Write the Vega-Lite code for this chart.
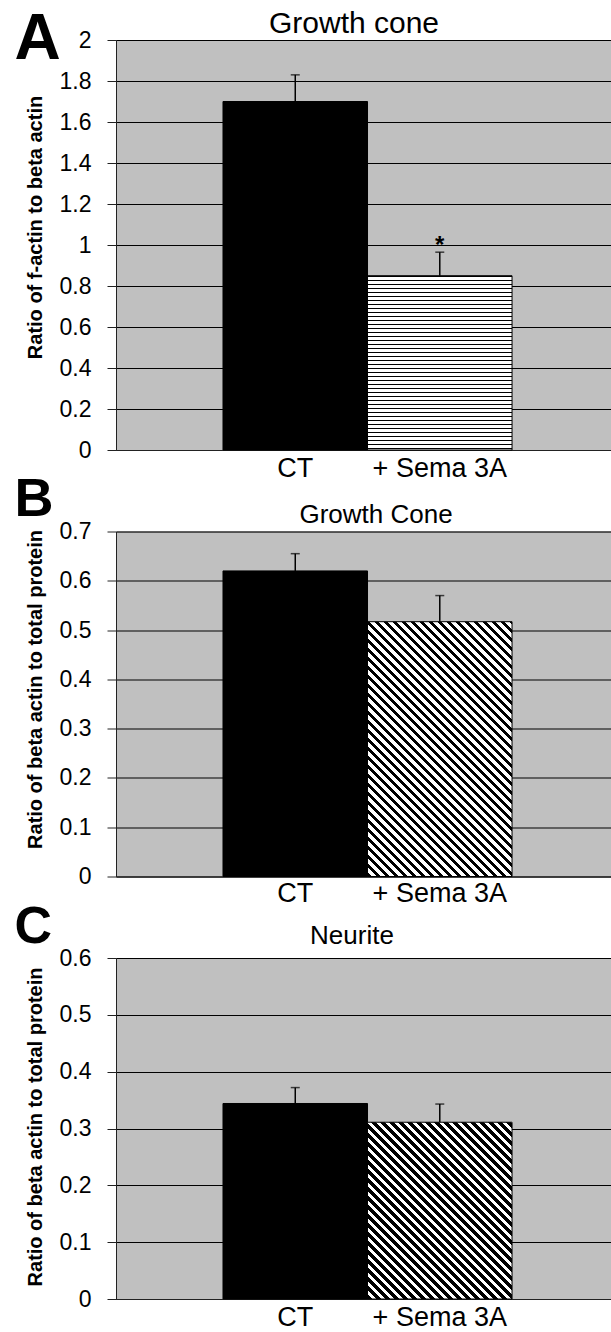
{
"$schema": "https://vega.github.io/schema/vega-lite/v6.json",
"padding": {"left": 13, "top": 6, "right": 0, "bottom": 0},
"autosize": {"type": "pad"},
"config": {
  "font": "Liberation Sans",
  "view": {"fill": "#c0c0c0", "stroke": "#808080", "strokeWidth": 1},
  "axis": {"labelColor": "#000", "titleColor": "#000", "domainColor": "#222", "tickColor": "#222", "gridColor": "#000", "gridOpacity": 1},
  "title": {"color": "#000", "fontWeight": "normal"}
},
"datasets": {
  "A": [{"group": "CT", "mean": 1.7, "err": 1.83}, {"group": "+ Sema 3A", "mean": 0.85, "err": 0.965, "sig": "*"}],
  "B": [{"group": "CT", "mean": 0.62, "err": 0.655}, {"group": "+ Sema 3A", "mean": 0.517, "err": 0.57}],
  "C": [{"group": "CT", "mean": 0.344, "err": 0.372}, {"group": "+ Sema 3A", "mean": 0.311, "err": 0.343}]
},
"bounds": "flush",
"spacing": 81.5,
"vconcat": [
{
  "width": 496, "height": 410,
  "data": {"name": "A"},
  "title": {"text": "Growth cone", "fontSize": 30, "anchor": "middle", "frame": "group", "baseline": "alphabetic", "offset": -56, "dx": -10},
  "resolve": {"axis": {"x": "independent"}},
  "layer": [
    {"transform": [{"filter": "datum.group === 'CT'"}],
     "mark": {"type": "bar", "fill": "#000", "stroke": "#000", "strokeWidth": 1},
     "encoding": {
       "x": {"field": "group", "type": "nominal", "scale": {"domain": ["CT", "+ Sema 3A"], "paddingInner": 0, "paddingOuter": 0.716, "align": 0.517},
             "axis": {"orient": "bottom", "title": null, "ticks": false, "labelFontSize": 27, "labelPadding": 5, "labelAngle": 0, "grid": false}},
       "y": {"field": "mean", "type": "quantitative", "title": "Ratio of f-actin to beta actin", "scale": {"domain": [0, 2], "nice": false},
             "axis": {"values": [0, 0.2, 0.4, 0.6, 0.8, 1, 1.2, 1.4, 1.6, 1.8, 2], "format": "~g", "labelFontSize": 23, "labelPadding": 16, "tickSize": 9, "titleFontSize": 20, "titleFontWeight": "bold", "titleX": -75, "titleY": 187, "titleBaseline": "alphabetic", "titleAngle": 270, "titleAlign": "center", "grid": true, "gridWidth": 1}}
     }},
    {"transform": [{"filter": "datum.group !== 'CT'"}],
     "mark": {"type": "bar", "stroke": "#000", "strokeWidth": 1, "fill": {"gradient": "linear", "x1": 0, "y1": 0, "x2": 0, "y2": 1.1478, "stops": [
{"offset":0.00,"color":"#000"},{"offset":0.007,"color":"#000"},{"offset":0.007,"color":"#fff"},{"offset":0.02,"color":"#fff"},
{"offset":0.02,"color":"#000"},{"offset":0.027,"color":"#000"},{"offset":0.027,"color":"#fff"},{"offset":0.04,"color":"#fff"},
{"offset":0.04,"color":"#000"},{"offset":0.047,"color":"#000"},{"offset":0.047,"color":"#fff"},{"offset":0.06,"color":"#fff"},
{"offset":0.06,"color":"#000"},{"offset":0.067,"color":"#000"},{"offset":0.067,"color":"#fff"},{"offset":0.08,"color":"#fff"},
{"offset":0.08,"color":"#000"},{"offset":0.087,"color":"#000"},{"offset":0.087,"color":"#fff"},{"offset":0.10,"color":"#fff"},
{"offset":0.10,"color":"#000"},{"offset":0.107,"color":"#000"},{"offset":0.107,"color":"#fff"},{"offset":0.12,"color":"#fff"},
{"offset":0.12,"color":"#000"},{"offset":0.127,"color":"#000"},{"offset":0.127,"color":"#fff"},{"offset":0.14,"color":"#fff"},
{"offset":0.14,"color":"#000"},{"offset":0.147,"color":"#000"},{"offset":0.147,"color":"#fff"},{"offset":0.16,"color":"#fff"},
{"offset":0.16,"color":"#000"},{"offset":0.167,"color":"#000"},{"offset":0.167,"color":"#fff"},{"offset":0.18,"color":"#fff"},
{"offset":0.18,"color":"#000"},{"offset":0.187,"color":"#000"},{"offset":0.187,"color":"#fff"},{"offset":0.20,"color":"#fff"},
{"offset":0.20,"color":"#000"},{"offset":0.207,"color":"#000"},{"offset":0.207,"color":"#fff"},{"offset":0.22,"color":"#fff"},
{"offset":0.22,"color":"#000"},{"offset":0.227,"color":"#000"},{"offset":0.227,"color":"#fff"},{"offset":0.24,"color":"#fff"},
{"offset":0.24,"color":"#000"},{"offset":0.247,"color":"#000"},{"offset":0.247,"color":"#fff"},{"offset":0.26,"color":"#fff"},
{"offset":0.26,"color":"#000"},{"offset":0.267,"color":"#000"},{"offset":0.267,"color":"#fff"},{"offset":0.28,"color":"#fff"},
{"offset":0.28,"color":"#000"},{"offset":0.287,"color":"#000"},{"offset":0.287,"color":"#fff"},{"offset":0.30,"color":"#fff"},
{"offset":0.30,"color":"#000"},{"offset":0.307,"color":"#000"},{"offset":0.307,"color":"#fff"},{"offset":0.32,"color":"#fff"},
{"offset":0.32,"color":"#000"},{"offset":0.327,"color":"#000"},{"offset":0.327,"color":"#fff"},{"offset":0.34,"color":"#fff"},
{"offset":0.34,"color":"#000"},{"offset":0.347,"color":"#000"},{"offset":0.347,"color":"#fff"},{"offset":0.36,"color":"#fff"},
{"offset":0.36,"color":"#000"},{"offset":0.367,"color":"#000"},{"offset":0.367,"color":"#fff"},{"offset":0.38,"color":"#fff"},
{"offset":0.38,"color":"#000"},{"offset":0.387,"color":"#000"},{"offset":0.387,"color":"#fff"},{"offset":0.40,"color":"#fff"},
{"offset":0.40,"color":"#000"},{"offset":0.407,"color":"#000"},{"offset":0.407,"color":"#fff"},{"offset":0.42,"color":"#fff"},
{"offset":0.42,"color":"#000"},{"offset":0.427,"color":"#000"},{"offset":0.427,"color":"#fff"},{"offset":0.44,"color":"#fff"},
{"offset":0.44,"color":"#000"},{"offset":0.447,"color":"#000"},{"offset":0.447,"color":"#fff"},{"offset":0.46,"color":"#fff"},
{"offset":0.46,"color":"#000"},{"offset":0.467,"color":"#000"},{"offset":0.467,"color":"#fff"},{"offset":0.48,"color":"#fff"},
{"offset":0.48,"color":"#000"},{"offset":0.487,"color":"#000"},{"offset":0.487,"color":"#fff"},{"offset":0.50,"color":"#fff"},
{"offset":0.50,"color":"#000"},{"offset":0.507,"color":"#000"},{"offset":0.507,"color":"#fff"},{"offset":0.52,"color":"#fff"},
{"offset":0.52,"color":"#000"},{"offset":0.527,"color":"#000"},{"offset":0.527,"color":"#fff"},{"offset":0.54,"color":"#fff"},
{"offset":0.54,"color":"#000"},{"offset":0.547,"color":"#000"},{"offset":0.547,"color":"#fff"},{"offset":0.56,"color":"#fff"},
{"offset":0.56,"color":"#000"},{"offset":0.567,"color":"#000"},{"offset":0.567,"color":"#fff"},{"offset":0.58,"color":"#fff"},
{"offset":0.58,"color":"#000"},{"offset":0.587,"color":"#000"},{"offset":0.587,"color":"#fff"},{"offset":0.60,"color":"#fff"},
{"offset":0.60,"color":"#000"},{"offset":0.607,"color":"#000"},{"offset":0.607,"color":"#fff"},{"offset":0.62,"color":"#fff"},
{"offset":0.62,"color":"#000"},{"offset":0.627,"color":"#000"},{"offset":0.627,"color":"#fff"},{"offset":0.64,"color":"#fff"},
{"offset":0.64,"color":"#000"},{"offset":0.647,"color":"#000"},{"offset":0.647,"color":"#fff"},{"offset":0.66,"color":"#fff"},
{"offset":0.66,"color":"#000"},{"offset":0.667,"color":"#000"},{"offset":0.667,"color":"#fff"},{"offset":0.68,"color":"#fff"},
{"offset":0.68,"color":"#000"},{"offset":0.687,"color":"#000"},{"offset":0.687,"color":"#fff"},{"offset":0.70,"color":"#fff"},
{"offset":0.70,"color":"#000"},{"offset":0.707,"color":"#000"},{"offset":0.707,"color":"#fff"},{"offset":0.72,"color":"#fff"},
{"offset":0.72,"color":"#000"},{"offset":0.727,"color":"#000"},{"offset":0.727,"color":"#fff"},{"offset":0.74,"color":"#fff"},
{"offset":0.74,"color":"#000"},{"offset":0.747,"color":"#000"},{"offset":0.747,"color":"#fff"},{"offset":0.76,"color":"#fff"},
{"offset":0.76,"color":"#000"},{"offset":0.767,"color":"#000"},{"offset":0.767,"color":"#fff"},{"offset":0.78,"color":"#fff"},
{"offset":0.78,"color":"#000"},{"offset":0.787,"color":"#000"},{"offset":0.787,"color":"#fff"},{"offset":0.80,"color":"#fff"},
{"offset":0.80,"color":"#000"},{"offset":0.807,"color":"#000"},{"offset":0.807,"color":"#fff"},{"offset":0.82,"color":"#fff"},
{"offset":0.82,"color":"#000"},{"offset":0.827,"color":"#000"},{"offset":0.827,"color":"#fff"},{"offset":0.84,"color":"#fff"},
{"offset":0.84,"color":"#000"},{"offset":0.847,"color":"#000"},{"offset":0.847,"color":"#fff"},{"offset":0.86,"color":"#fff"},
{"offset":0.86,"color":"#000"},{"offset":0.867,"color":"#000"},{"offset":0.867,"color":"#fff"},{"offset":0.88,"color":"#fff"},
{"offset":0.88,"color":"#000"},{"offset":0.887,"color":"#000"},{"offset":0.887,"color":"#fff"},{"offset":0.90,"color":"#fff"}
     ]}},
     "encoding": {
       "x": {"field": "group", "type": "nominal", "axis": null},
       "y": {"field": "mean", "type": "quantitative", "title": "Ratio of f-actin to beta actin"}
     }},
    {"mark": {"type": "rule", "color": "#000", "strokeWidth": 1.5},
     "encoding": {
       "x": {"field": "group", "type": "nominal", "axis": {"orient": "top", "title": "A", "titleFontSize": 64, "titleFontWeight": "bold", "titleX": -102, "titleY": 18, "titleAlign": "left", "titleBaseline": "alphabetic", "titleAngle": 0, "labels": false, "ticks": false, "domain": false, "grid": false}},
       "y": {"field": "mean", "type": "quantitative", "title": "Ratio of f-actin to beta actin"},
       "y2": {"field": "err"}
     }},
    {"mark": {"type": "tick", "color": "#000", "thickness": 1.5, "size": 9},
     "encoding": {
       "x": {"field": "group", "type": "nominal", "axis": null},
       "y": {"field": "err", "type": "quantitative", "title": "Ratio of f-actin to beta actin"}
     }},
    {"transform": [{"filter": "datum.sig"}],
     "mark": {"type": "text", "fontSize": 24, "fontWeight": "bold", "baseline": "alphabetic", "dy": 1, "color": "#000"},
     "encoding": {
       "x": {"field": "group", "type": "nominal", "axis": null},
       "y": {"field": "err", "type": "quantitative", "title": "Ratio of f-actin to beta actin"},
       "text": {"field": "sig"}
     }}
  ]
},
{
  "width": 496, "height": 345,
  "data": {"name": "B"},
  "title": {"text": "Growth Cone", "fontSize": 26, "anchor": "middle", "frame": "group", "baseline": "alphabetic", "offset": -76, "dx": 12},
  "resolve": {"axis": {"x": "independent"}},
  "layer": [
    {"transform": [{"filter": "datum.group === 'CT'"}],
     "mark": {"type": "bar", "fill": "#000", "stroke": "#000", "strokeWidth": 1},
     "encoding": {
       "x": {"field": "group", "type": "nominal", "scale": {"domain": ["CT", "+ Sema 3A"], "paddingInner": 0, "paddingOuter": 0.716, "align": 0.517},
             "axis": {"orient": "bottom", "title": null, "ticks": false, "labelFontSize": 27, "labelPadding": 4, "labelAngle": 0, "grid": false}},
       "y": {"field": "mean", "type": "quantitative", "title": "Ratio of beta actin to total protein", "scale": {"domain": [0, 0.7], "nice": false},
             "axis": {"values": [0, 0.1, 0.2, 0.3, 0.4, 0.5, 0.6, 0.7], "format": "~g", "labelFontSize": 23, "labelPadding": 16, "tickSize": 9, "titleFontSize": 20, "titleFontWeight": "bold", "titleX": -75, "titleY": 157.5, "titleBaseline": "alphabetic", "titleAngle": 270, "titleAlign": "center", "grid": true, "gridWidth": 1}}
     }},
    {"transform": [{"filter": "datum.group !== 'CT'"}],
     "mark": {"type": "bar", "stroke": "#000", "strokeWidth": 1, "fill": {"gradient": "linear", "x1": 0, "y1": 1, "x2": 0.7579, "y2": -0.3362, "stops": [
{"offset":0.00,"color":"#000"},{"offset":0.01,"color":"#000"},{"offset":0.01,"color":"#fff"},{"offset":0.02,"color":"#fff"},
{"offset":0.02,"color":"#000"},{"offset":0.03,"color":"#000"},{"offset":0.03,"color":"#fff"},{"offset":0.04,"color":"#fff"},
{"offset":0.04,"color":"#000"},{"offset":0.05,"color":"#000"},{"offset":0.05,"color":"#fff"},{"offset":0.06,"color":"#fff"},
{"offset":0.06,"color":"#000"},{"offset":0.07,"color":"#000"},{"offset":0.07,"color":"#fff"},{"offset":0.08,"color":"#fff"},
{"offset":0.08,"color":"#000"},{"offset":0.09,"color":"#000"},{"offset":0.09,"color":"#fff"},{"offset":0.10,"color":"#fff"},
{"offset":0.10,"color":"#000"},{"offset":0.11,"color":"#000"},{"offset":0.11,"color":"#fff"},{"offset":0.12,"color":"#fff"},
{"offset":0.12,"color":"#000"},{"offset":0.13,"color":"#000"},{"offset":0.13,"color":"#fff"},{"offset":0.14,"color":"#fff"},
{"offset":0.14,"color":"#000"},{"offset":0.15,"color":"#000"},{"offset":0.15,"color":"#fff"},{"offset":0.16,"color":"#fff"},
{"offset":0.16,"color":"#000"},{"offset":0.17,"color":"#000"},{"offset":0.17,"color":"#fff"},{"offset":0.18,"color":"#fff"},
{"offset":0.18,"color":"#000"},{"offset":0.19,"color":"#000"},{"offset":0.19,"color":"#fff"},{"offset":0.20,"color":"#fff"},
{"offset":0.20,"color":"#000"},{"offset":0.21,"color":"#000"},{"offset":0.21,"color":"#fff"},{"offset":0.22,"color":"#fff"},
{"offset":0.22,"color":"#000"},{"offset":0.23,"color":"#000"},{"offset":0.23,"color":"#fff"},{"offset":0.24,"color":"#fff"},
{"offset":0.24,"color":"#000"},{"offset":0.25,"color":"#000"},{"offset":0.25,"color":"#fff"},{"offset":0.26,"color":"#fff"},
{"offset":0.26,"color":"#000"},{"offset":0.27,"color":"#000"},{"offset":0.27,"color":"#fff"},{"offset":0.28,"color":"#fff"},
{"offset":0.28,"color":"#000"},{"offset":0.29,"color":"#000"},{"offset":0.29,"color":"#fff"},{"offset":0.30,"color":"#fff"},
{"offset":0.30,"color":"#000"},{"offset":0.31,"color":"#000"},{"offset":0.31,"color":"#fff"},{"offset":0.32,"color":"#fff"},
{"offset":0.32,"color":"#000"},{"offset":0.33,"color":"#000"},{"offset":0.33,"color":"#fff"},{"offset":0.34,"color":"#fff"},
{"offset":0.34,"color":"#000"},{"offset":0.35,"color":"#000"},{"offset":0.35,"color":"#fff"},{"offset":0.36,"color":"#fff"},
{"offset":0.36,"color":"#000"},{"offset":0.37,"color":"#000"},{"offset":0.37,"color":"#fff"},{"offset":0.38,"color":"#fff"},
{"offset":0.38,"color":"#000"},{"offset":0.39,"color":"#000"},{"offset":0.39,"color":"#fff"},{"offset":0.40,"color":"#fff"},
{"offset":0.40,"color":"#000"},{"offset":0.41,"color":"#000"},{"offset":0.41,"color":"#fff"},{"offset":0.42,"color":"#fff"},
{"offset":0.42,"color":"#000"},{"offset":0.43,"color":"#000"},{"offset":0.43,"color":"#fff"},{"offset":0.44,"color":"#fff"},
{"offset":0.44,"color":"#000"},{"offset":0.45,"color":"#000"},{"offset":0.45,"color":"#fff"},{"offset":0.46,"color":"#fff"},
{"offset":0.46,"color":"#000"},{"offset":0.47,"color":"#000"},{"offset":0.47,"color":"#fff"},{"offset":0.48,"color":"#fff"},
{"offset":0.48,"color":"#000"},{"offset":0.49,"color":"#000"},{"offset":0.49,"color":"#fff"},{"offset":0.50,"color":"#fff"},
{"offset":0.50,"color":"#000"},{"offset":0.51,"color":"#000"},{"offset":0.51,"color":"#fff"},{"offset":0.52,"color":"#fff"},
{"offset":0.52,"color":"#000"},{"offset":0.53,"color":"#000"},{"offset":0.53,"color":"#fff"},{"offset":0.54,"color":"#fff"},
{"offset":0.54,"color":"#000"},{"offset":0.55,"color":"#000"},{"offset":0.55,"color":"#fff"},{"offset":0.56,"color":"#fff"},
{"offset":0.56,"color":"#000"},{"offset":0.57,"color":"#000"},{"offset":0.57,"color":"#fff"},{"offset":0.58,"color":"#fff"},
{"offset":0.58,"color":"#000"},{"offset":0.59,"color":"#000"},{"offset":0.59,"color":"#fff"},{"offset":0.60,"color":"#fff"},
{"offset":0.60,"color":"#000"},{"offset":0.61,"color":"#000"},{"offset":0.61,"color":"#fff"},{"offset":0.62,"color":"#fff"},
{"offset":0.62,"color":"#000"},{"offset":0.63,"color":"#000"},{"offset":0.63,"color":"#fff"},{"offset":0.64,"color":"#fff"},
{"offset":0.64,"color":"#000"},{"offset":0.65,"color":"#000"},{"offset":0.65,"color":"#fff"},{"offset":0.66,"color":"#fff"},
{"offset":0.66,"color":"#000"},{"offset":0.67,"color":"#000"},{"offset":0.67,"color":"#fff"},{"offset":0.68,"color":"#fff"},
{"offset":0.68,"color":"#000"},{"offset":0.69,"color":"#000"},{"offset":0.69,"color":"#fff"},{"offset":0.70,"color":"#fff"},
{"offset":0.70,"color":"#000"},{"offset":0.71,"color":"#000"},{"offset":0.71,"color":"#fff"},{"offset":0.72,"color":"#fff"},
{"offset":0.72,"color":"#000"},{"offset":0.73,"color":"#000"},{"offset":0.73,"color":"#fff"},{"offset":0.74,"color":"#fff"},
{"offset":0.74,"color":"#000"},{"offset":0.75,"color":"#000"},{"offset":0.75,"color":"#fff"},{"offset":0.76,"color":"#fff"},
{"offset":0.76,"color":"#000"},{"offset":0.77,"color":"#000"},{"offset":0.77,"color":"#fff"},{"offset":0.78,"color":"#fff"},
{"offset":0.78,"color":"#000"},{"offset":0.79,"color":"#000"},{"offset":0.79,"color":"#fff"},{"offset":0.80,"color":"#fff"},
{"offset":0.80,"color":"#000"},{"offset":0.81,"color":"#000"},{"offset":0.81,"color":"#fff"},{"offset":0.82,"color":"#fff"},
{"offset":0.82,"color":"#000"},{"offset":0.83,"color":"#000"},{"offset":0.83,"color":"#fff"},{"offset":0.84,"color":"#fff"},
{"offset":0.84,"color":"#000"},{"offset":0.85,"color":"#000"},{"offset":0.85,"color":"#fff"},{"offset":0.86,"color":"#fff"},
{"offset":0.86,"color":"#000"},{"offset":0.87,"color":"#000"},{"offset":0.87,"color":"#fff"},{"offset":0.88,"color":"#fff"},
{"offset":0.88,"color":"#000"},{"offset":0.89,"color":"#000"},{"offset":0.89,"color":"#fff"},{"offset":0.90,"color":"#fff"}
     ]}},
     "encoding": {
       "x": {"field": "group", "type": "nominal", "axis": null},
       "y": {"field": "mean", "type": "quantitative", "title": "Ratio of beta actin to total protein"}
     }},
    {"mark": {"type": "rule", "color": "#000", "strokeWidth": 1.5},
     "encoding": {
       "x": {"field": "group", "type": "nominal", "axis": {"orient": "top", "title": "B", "titleFontSize": 54, "titleFontWeight": "bold", "titleX": -102, "titleY": -16, "titleAlign": "left", "titleBaseline": "alphabetic", "titleAngle": 0, "labels": false, "ticks": false, "domain": false, "grid": false}},
       "y": {"field": "mean", "type": "quantitative", "title": "Ratio of beta actin to total protein"},
       "y2": {"field": "err"}
     }},
    {"mark": {"type": "tick", "color": "#000", "thickness": 1.5, "size": 9},
     "encoding": {
       "x": {"field": "group", "type": "nominal", "axis": null},
       "y": {"field": "err", "type": "quantitative", "title": "Ratio of beta actin to total protein"}
     }}
  ]
},
{
  "width": 496, "height": 341,
  "data": {"name": "C"},
  "title": {"text": "Neurite", "fontSize": 26, "anchor": "middle", "frame": "group", "baseline": "alphabetic", "offset": -70, "dx": -12},
  "resolve": {"axis": {"x": "independent"}},
  "layer": [
    {"transform": [{"filter": "datum.group === 'CT'"}],
     "mark": {"type": "bar", "fill": "#000", "stroke": "#000", "strokeWidth": 1},
     "encoding": {
       "x": {"field": "group", "type": "nominal", "scale": {"domain": ["CT", "+ Sema 3A"], "paddingInner": 0, "paddingOuter": 0.716, "align": 0.517},
             "axis": {"orient": "bottom", "title": null, "ticks": false, "labelFontSize": 27, "labelPadding": 5, "labelAngle": 0, "grid": false}},
       "y": {"field": "mean", "type": "quantitative", "title": "Ratio of beta actin to total protein", "scale": {"domain": [0, 0.6], "nice": false},
             "axis": {"values": [0, 0.1, 0.2, 0.3, 0.4, 0.5, 0.6], "format": "~g", "labelFontSize": 23, "labelPadding": 16, "tickSize": 9, "titleFontSize": 20, "titleFontWeight": "bold", "titleX": -75, "titleY": 168.5, "titleBaseline": "alphabetic", "titleAngle": 270, "titleAlign": "center", "grid": true, "gridWidth": 1}}
     }},
    {"transform": [{"filter": "datum.group !== 'CT'"}],
     "mark": {"type": "bar", "stroke": "#000", "strokeWidth": 1, "fill": {"gradient": "linear", "x1": 0, "y1": 1, "x2": 1.2476, "y2": -0.5259, "stops": [
{"offset":0.00,"color":"#000"},{"offset":0.01,"color":"#000"},{"offset":0.01,"color":"#fff"},{"offset":0.02,"color":"#fff"},
{"offset":0.02,"color":"#000"},{"offset":0.03,"color":"#000"},{"offset":0.03,"color":"#fff"},{"offset":0.04,"color":"#fff"},
{"offset":0.04,"color":"#000"},{"offset":0.05,"color":"#000"},{"offset":0.05,"color":"#fff"},{"offset":0.06,"color":"#fff"},
{"offset":0.06,"color":"#000"},{"offset":0.07,"color":"#000"},{"offset":0.07,"color":"#fff"},{"offset":0.08,"color":"#fff"},
{"offset":0.08,"color":"#000"},{"offset":0.09,"color":"#000"},{"offset":0.09,"color":"#fff"},{"offset":0.10,"color":"#fff"},
{"offset":0.10,"color":"#000"},{"offset":0.11,"color":"#000"},{"offset":0.11,"color":"#fff"},{"offset":0.12,"color":"#fff"},
{"offset":0.12,"color":"#000"},{"offset":0.13,"color":"#000"},{"offset":0.13,"color":"#fff"},{"offset":0.14,"color":"#fff"},
{"offset":0.14,"color":"#000"},{"offset":0.15,"color":"#000"},{"offset":0.15,"color":"#fff"},{"offset":0.16,"color":"#fff"},
{"offset":0.16,"color":"#000"},{"offset":0.17,"color":"#000"},{"offset":0.17,"color":"#fff"},{"offset":0.18,"color":"#fff"},
{"offset":0.18,"color":"#000"},{"offset":0.19,"color":"#000"},{"offset":0.19,"color":"#fff"},{"offset":0.20,"color":"#fff"},
{"offset":0.20,"color":"#000"},{"offset":0.21,"color":"#000"},{"offset":0.21,"color":"#fff"},{"offset":0.22,"color":"#fff"},
{"offset":0.22,"color":"#000"},{"offset":0.23,"color":"#000"},{"offset":0.23,"color":"#fff"},{"offset":0.24,"color":"#fff"},
{"offset":0.24,"color":"#000"},{"offset":0.25,"color":"#000"},{"offset":0.25,"color":"#fff"},{"offset":0.26,"color":"#fff"},
{"offset":0.26,"color":"#000"},{"offset":0.27,"color":"#000"},{"offset":0.27,"color":"#fff"},{"offset":0.28,"color":"#fff"},
{"offset":0.28,"color":"#000"},{"offset":0.29,"color":"#000"},{"offset":0.29,"color":"#fff"},{"offset":0.30,"color":"#fff"},
{"offset":0.30,"color":"#000"},{"offset":0.31,"color":"#000"},{"offset":0.31,"color":"#fff"},{"offset":0.32,"color":"#fff"},
{"offset":0.32,"color":"#000"},{"offset":0.33,"color":"#000"},{"offset":0.33,"color":"#fff"},{"offset":0.34,"color":"#fff"},
{"offset":0.34,"color":"#000"},{"offset":0.35,"color":"#000"},{"offset":0.35,"color":"#fff"},{"offset":0.36,"color":"#fff"},
{"offset":0.36,"color":"#000"},{"offset":0.37,"color":"#000"},{"offset":0.37,"color":"#fff"},{"offset":0.38,"color":"#fff"},
{"offset":0.38,"color":"#000"},{"offset":0.39,"color":"#000"},{"offset":0.39,"color":"#fff"},{"offset":0.40,"color":"#fff"},
{"offset":0.40,"color":"#000"},{"offset":0.41,"color":"#000"},{"offset":0.41,"color":"#fff"},{"offset":0.42,"color":"#fff"},
{"offset":0.42,"color":"#000"},{"offset":0.43,"color":"#000"},{"offset":0.43,"color":"#fff"},{"offset":0.44,"color":"#fff"},
{"offset":0.44,"color":"#000"},{"offset":0.45,"color":"#000"},{"offset":0.45,"color":"#fff"},{"offset":0.46,"color":"#fff"},
{"offset":0.46,"color":"#000"},{"offset":0.47,"color":"#000"},{"offset":0.47,"color":"#fff"},{"offset":0.48,"color":"#fff"},
{"offset":0.48,"color":"#000"},{"offset":0.49,"color":"#000"},{"offset":0.49,"color":"#fff"},{"offset":0.50,"color":"#fff"},
{"offset":0.50,"color":"#000"},{"offset":0.51,"color":"#000"},{"offset":0.51,"color":"#fff"},{"offset":0.52,"color":"#fff"},
{"offset":0.52,"color":"#000"},{"offset":0.53,"color":"#000"},{"offset":0.53,"color":"#fff"},{"offset":0.54,"color":"#fff"},
{"offset":0.54,"color":"#000"},{"offset":0.55,"color":"#000"},{"offset":0.55,"color":"#fff"},{"offset":0.56,"color":"#fff"},
{"offset":0.56,"color":"#000"},{"offset":0.57,"color":"#000"},{"offset":0.57,"color":"#fff"},{"offset":0.58,"color":"#fff"},
{"offset":0.58,"color":"#000"},{"offset":0.59,"color":"#000"},{"offset":0.59,"color":"#fff"},{"offset":0.60,"color":"#fff"},
{"offset":0.60,"color":"#000"},{"offset":0.61,"color":"#000"},{"offset":0.61,"color":"#fff"},{"offset":0.62,"color":"#fff"},
{"offset":0.62,"color":"#000"},{"offset":0.63,"color":"#000"},{"offset":0.63,"color":"#fff"},{"offset":0.64,"color":"#fff"},
{"offset":0.64,"color":"#000"},{"offset":0.65,"color":"#000"},{"offset":0.65,"color":"#fff"},{"offset":0.66,"color":"#fff"},
{"offset":0.66,"color":"#000"},{"offset":0.67,"color":"#000"},{"offset":0.67,"color":"#fff"},{"offset":0.68,"color":"#fff"},
{"offset":0.68,"color":"#000"},{"offset":0.69,"color":"#000"},{"offset":0.69,"color":"#fff"},{"offset":0.70,"color":"#fff"},
{"offset":0.70,"color":"#000"},{"offset":0.71,"color":"#000"},{"offset":0.71,"color":"#fff"},{"offset":0.72,"color":"#fff"},
{"offset":0.72,"color":"#000"},{"offset":0.73,"color":"#000"},{"offset":0.73,"color":"#fff"},{"offset":0.74,"color":"#fff"}
     ]}},
     "encoding": {
       "x": {"field": "group", "type": "nominal", "axis": null},
       "y": {"field": "mean", "type": "quantitative", "title": "Ratio of beta actin to total protein"}
     }},
    {"mark": {"type": "rule", "color": "#000", "strokeWidth": 1.5},
     "encoding": {
       "x": {"field": "group", "type": "nominal", "axis": {"orient": "top", "title": "C", "titleFontSize": 52, "titleFontWeight": "bold", "titleX": -102, "titleY": -16, "titleAlign": "left", "titleBaseline": "alphabetic", "titleAngle": 0, "labels": false, "ticks": false, "domain": false, "grid": false}},
       "y": {"field": "mean", "type": "quantitative", "title": "Ratio of beta actin to total protein"},
       "y2": {"field": "err"}
     }},
    {"mark": {"type": "tick", "color": "#000", "thickness": 1.5, "size": 9},
     "encoding": {
       "x": {"field": "group", "type": "nominal", "axis": null},
       "y": {"field": "err", "type": "quantitative", "title": "Ratio of beta actin to total protein"}
     }}
  ]
}
]
}
